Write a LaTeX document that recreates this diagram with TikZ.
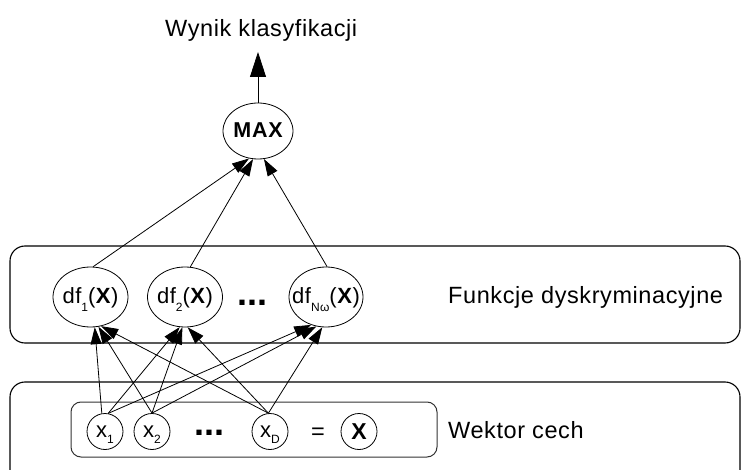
\documentclass[tikz,border=0pt]{standalone}
\usepackage{fontspec}
\setmainfont{Liberation Sans}
\newfontfamily\labfont[LetterSpace=2.5]{Liberation Sans}
\newfontfamily\maxfont[LetterSpace=4]{Liberation Sans}
\usetikzlibrary{shapes.geometric,arrows.meta}
\newcommand\ctext[2]{\makebox[0pt]{\raisebox{#1}[0pt][0pt]{#2}}}
\newcommand\lowsub[2]{\raisebox{#1}{\fontsize{12}{12}\selectfont #2}}
\tikzset{
  box/.style={draw=black, line width=1.1pt, rounded corners=15pt},
  inbox/.style={draw=black!80, line width=1pt, rounded corners=10pt},
  dfnode/.style={draw, ellipse, line width=0.8pt, inner sep=0pt, minimum width=75pt, minimum height=60pt, font=\labfont\fontsize{22}{24}\selectfont},
  maxnode/.style={draw, ellipse, line width=0.8pt, inner sep=0pt, minimum width=70pt, minimum height=56pt, font=\maxfont\bfseries\fontsize{21.5}{24}\selectfont},
  xnode/.style={draw, circle, line width=0.8pt, inner sep=0pt, minimum size=36pt, font=\labfont\fontsize{22}{24}\selectfont},
  plain/.style={inner sep=0pt, font=\labfont\fontsize{23.5}{28}\selectfont},
  dots/.style={inner sep=0pt, font=\bfseries\fontsize{36}{40}\selectfont},
  arr/.style={line width=0.8pt, -{Triangle[length=17pt,width=11pt]}},
  bigarr/.style={line width=0.8pt, -{Triangle[length=25pt,width=16pt]}}
}
\begin{document}
\begin{tikzpicture}[x=1pt,y=-1pt]
\fill[white] (0,0) rectangle (741,470);
\useasboundingbox (0,0) rectangle (741,470);
% group boxes
\draw[box] (10,246) rectangle (740,343);
\draw[box] (10,470) -- (10,382) -- (740,382) -- (740,470);
\draw[inbox] (71,402) rectangle (437,457);
% labels
\node[plain, anchor=base west] (title) at (165,37) {Wynik klasyfikacji};
\node[plain, anchor=base west] (funk) at (448,303.5) {Funkcje dyskryminacyjne};
\node[plain, anchor=base west] (wek) at (448,438) {Wektor cech};
% MAX
\node[maxnode] (MAX) at (258,131) {\ctext{-7pt}{MAX}};
\coordinate (outtip) at (258,52);
% discriminant functions
\node[dfnode] (df1) at (90.5,297) {\ctext{-6pt}{df\lowsub{-8.5pt}{1}(\textbf{X})}};
\node[dfnode] (df2) at (185,297) {\ctext{-6pt}{df\lowsub{-8.5pt}{2}(\textbf{X})}};
\node[dfnode, minimum width=74pt] (dfN) at (326,297) {\ctext{-6pt}{df\lowsub{-8.5pt}{Nω}(\textbf{X})}};
\node[dots] (dots1) at (252,300) {\ctext{-5pt}{...}};
% features
\node[xnode] (x1) at (105,431.5) {\ctext{-5.5pt}{x\lowsub{-6pt}{1}}};
\node[xnode] (x2) at (152,431.5) {\ctext{-5.5pt}{x\lowsub{-6pt}{2}}};
\node[dots] (dots2) at (209.5,431) {\ctext{-4pt}{...}};
\node[xnode] (xD) at (270,431.5) {\ctext{-5.5pt}{x\lowsub{-6pt}{D}}};
\node[plain] (eq) at (318,432) {\ctext{-7pt}{=}};
\node[xnode, font=\labfont\bfseries\fontsize{23}{24}\selectfont] (X) at (359,431.5) {\ctext{-8pt}{X}};
% connectors
\draw[bigarr] (MAX.north) -- (outtip);
\draw[arr] (df1.85) -- (MAX.-108);
\draw[arr] (df2.80) -- (MAX.-100);
\draw[arr] (dfN.88) -- (MAX.-78);
\draw[arr] (x1.100) -- (df1.-82);
\draw[arr] (x2.north) -- (df1.-75);
\draw[arr] (xD.95) -- (df1.-70);
\draw[arr] (x1.80) -- (df2.-100);
\draw[arr] (x2.north) -- (df2.-95);
\draw[arr] (xD.95) -- (df2.-85);
\draw[arr] (x1.80) -- (dfN.-118);
\draw[arr] (x2.north) -- (dfN.-108);
\draw[arr] (xD.95) -- (dfN.-97);
\end{tikzpicture}
\end{document}
